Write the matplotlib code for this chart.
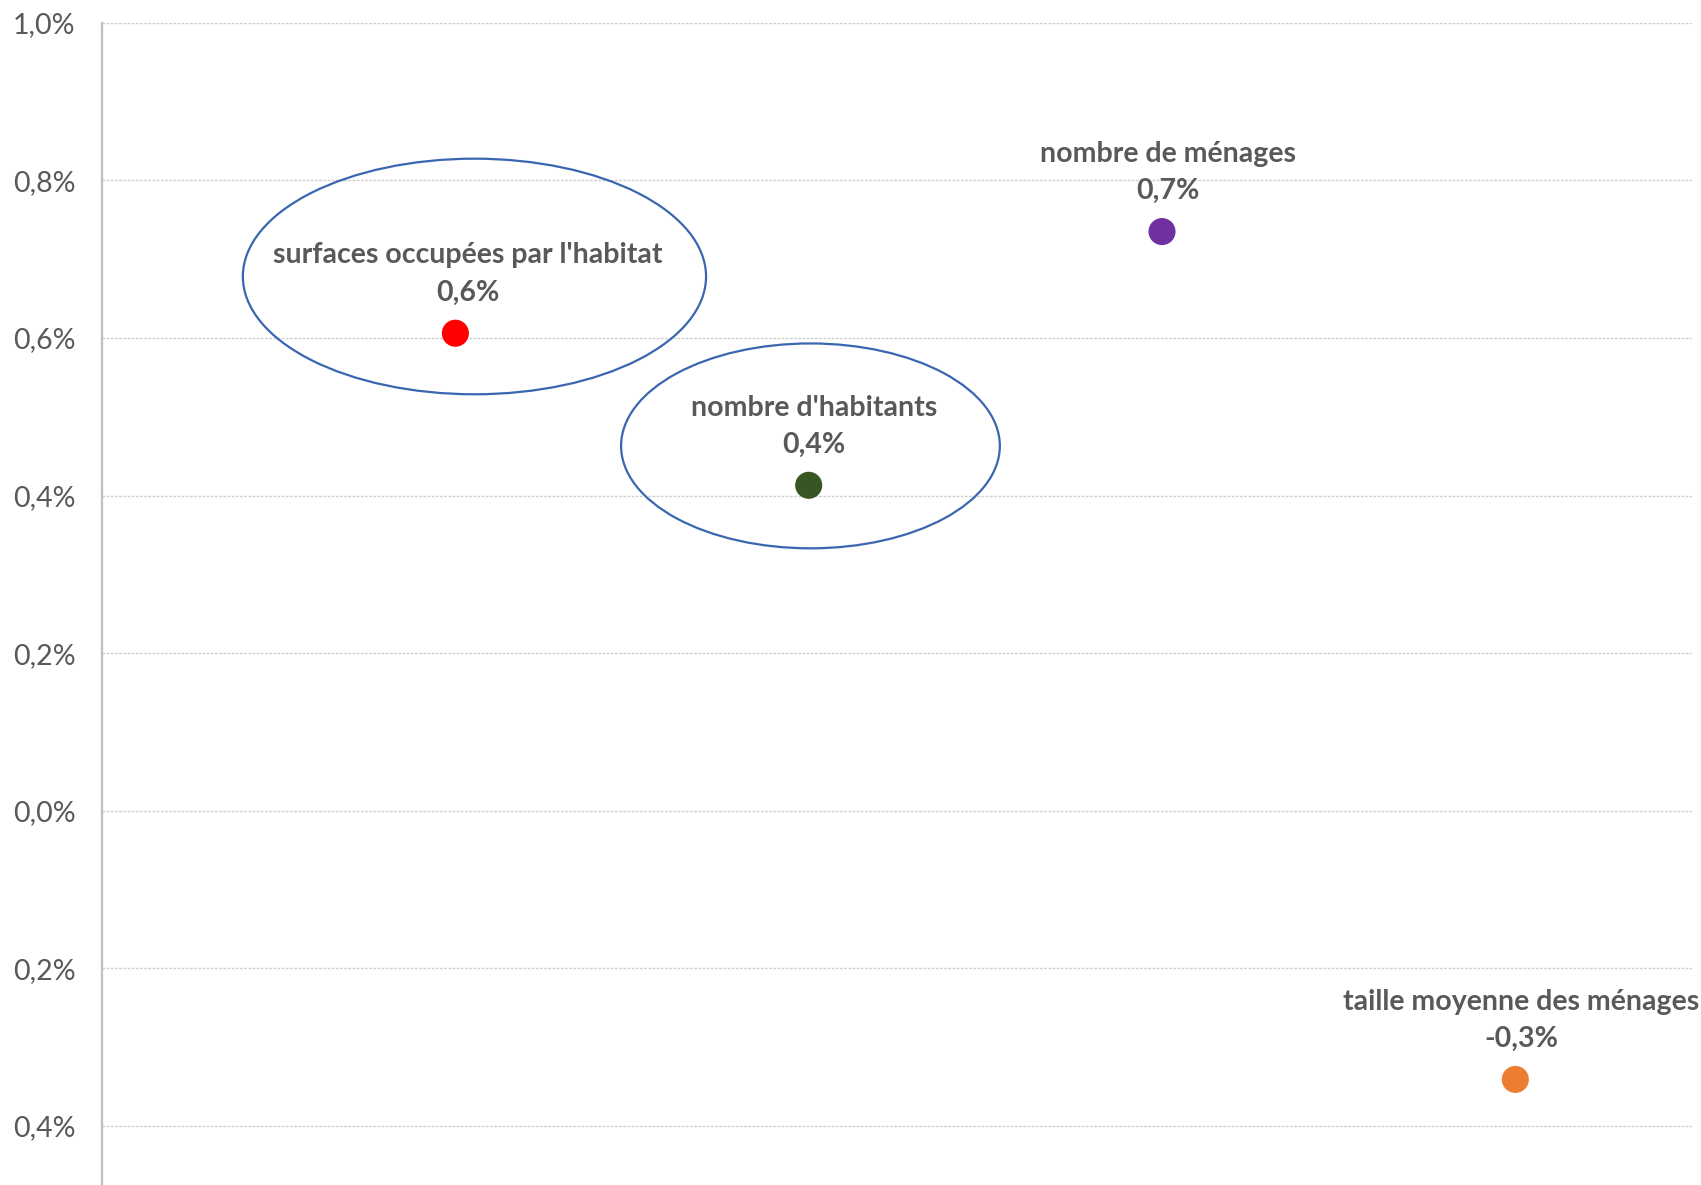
import matplotlib.pyplot as plt
from matplotlib.patches import Ellipse

# series (values in %)
names = ["surfaces occupées par l'habitat", "nombre d'habitants",
         "nombre de ménages", "taille moyenne des ménages"]
xpos = [1, 2, 3, 4]
values = [0.606, 0.413, 0.735, -0.341]
value_labels = ["0,6%", "0,4%", "0,7%", "-0,3%"]
colors = ["#FF0000", "#375623", "#7030A0", "#ED7D31"]

yticks = [1.0, 0.8, 0.6, 0.4, 0.2, 0.0, -0.2, -0.4]
ytick_labels = ["1,0%", "0,8%", "0,6%", "0,4%", "0,2%", "0,0%", "0,2%", "0,4%"]

plt.rcParams['font.family'] = ['Lato', 'DejaVu Sans']
txt_col = "#595959"

fig = plt.figure(figsize=(17.01, 11.85), dpi=100)
ax = fig.add_axes([0.060, 0.0, 0.9347, 0.9808])

ax.scatter(xpos, values, s=380, c=colors, zorder=3, linewidths=0)

for x, y, n, v in zip(xpos, values, names, value_labels):
    dx = 9 if x == 1 else 4
    ax.annotate(n, (x, y), xytext=(dx, 56), textcoords='offset points',
                ha='center', va='center', fontsize=20.5, fontweight='bold',
                color=txt_col, annotation_clip=False)
    ax.annotate(v, (x, y), xytext=(dx, 29), textcoords='offset points',
                ha='center', va='center', fontsize=20.5, fontweight='bold',
                color=txt_col, annotation_clip=False)

# hand drawn ellipses around the first two points
for cx, cy, w, h in [(1.054, 0.678, 1.311, 0.299), (2.005, 0.463, 1.072, 0.260)]:
    ax.add_patch(Ellipse((cx, cy), w, h, fill=False, edgecolor="#3A66B0",
                         lw=1.6, zorder=4))

ax.set_xlim(0, 4.5)
ax.set_ylim(-0.475, 1.0)
ax.set_xticks([])
ax.set_yticks(yticks)
ax.set_yticklabels(ytick_labels, fontsize=20.5, color=txt_col)
ax.tick_params(axis='y', length=0, pad=19)
ax.grid(axis='y', color="#D0D0D0", lw=1.0, ls=(0, (2, 1)))
ax.set_axisbelow(True)
for s in ['top', 'right', 'bottom']:
    ax.spines[s].set_visible(False)
ax.spines['left'].set_color("#BFBFBF")
ax.spines['left'].set_linewidth(1.6)

fig.savefig("out.png", dpi=100)
